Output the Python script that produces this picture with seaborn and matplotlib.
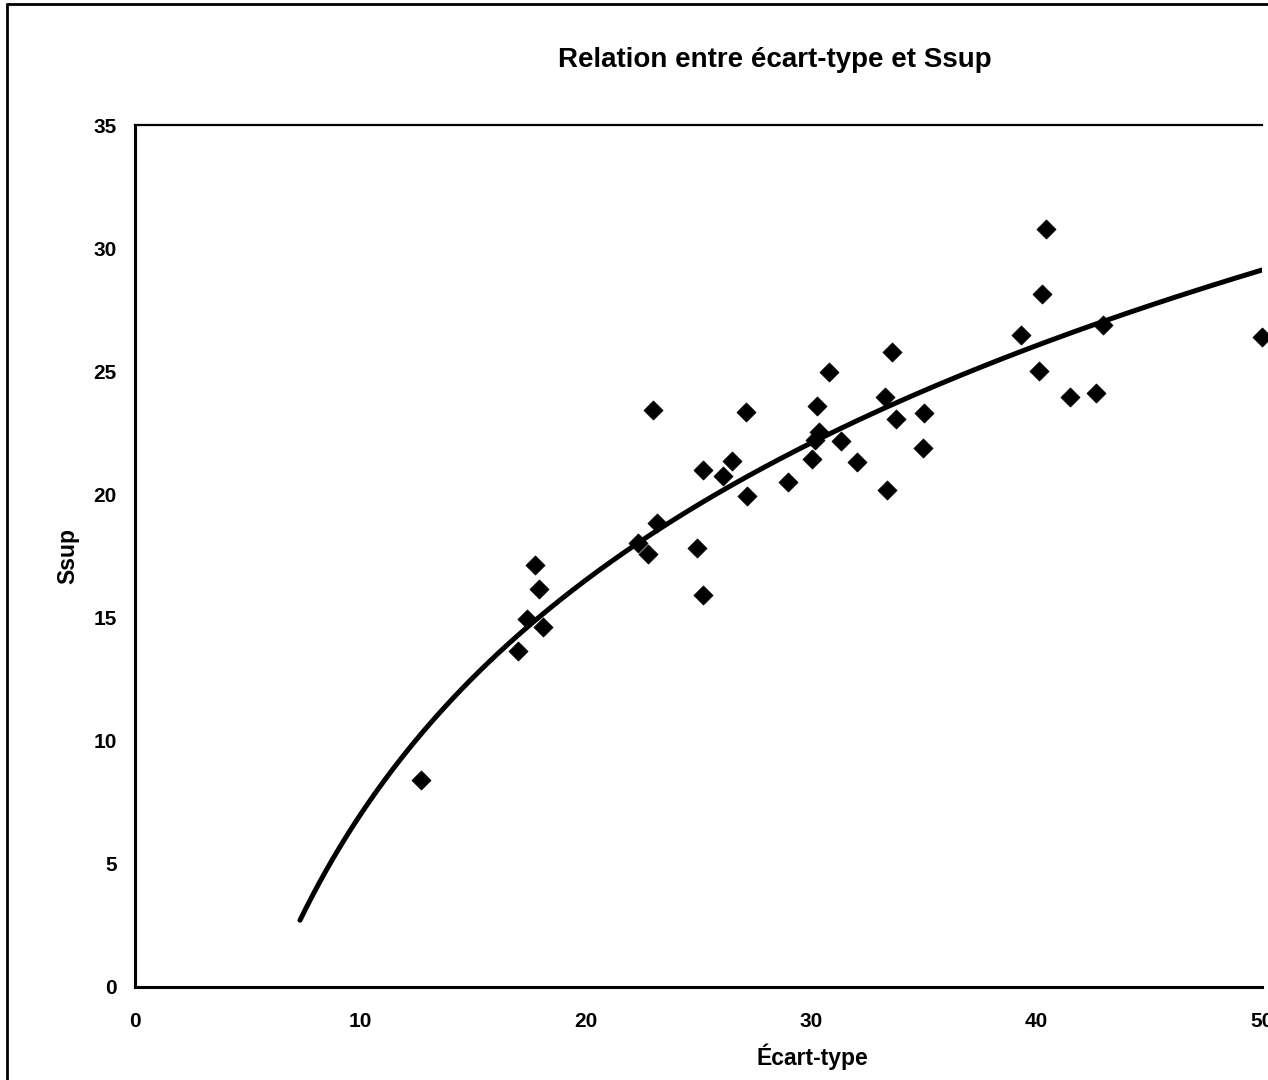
import numpy as np
import pandas as pd
import matplotlib
matplotlib.use("Agg")
import matplotlib.pyplot as plt
from matplotlib.lines import Line2D
import seaborn as sns

# Observations: standard deviation vs. Ssup
ecart_type = [12.69, 16.99, 17.39, 17.75, 17.92, 18.10, 22.32, 22.76, 22.98, 23.16,
              24.93, 25.20, 25.20, 26.09, 26.49, 27.11, 27.15, 28.97, 30.04, 30.17,
              30.26, 30.35, 30.79, 31.32, 32.03, 33.27, 33.36, 33.58, 33.76, 34.96,
              35.00, 39.31, 40.11, 40.24, 40.42, 41.48, 42.64, 42.95, 50.00]
ssup = [8.40, 13.64, 14.94, 17.13, 16.16, 14.62, 18.03, 17.58, 23.43, 18.84,
        17.82, 15.92, 20.99, 20.75, 21.36, 23.35, 19.94, 20.50, 21.44, 22.21,
        23.59, 22.53, 24.97, 22.17, 21.32, 23.95, 20.18, 25.78, 23.06, 21.88,
        23.30, 26.47, 25.01, 28.14, 30.78, 23.95, 24.12, 26.88, 26.39]

x_ticks = [0, 10, 20, 30, 40, 50]
y_ticks = [0, 5, 10, 15, 20, 25, 30, 35]

# Logarithmic trend line  Ssup = a * ln(ecart) + b, drawn with a backward forecast
trend_slope = 13.74
trend_intercept = -24.64
trend_start = 7.32
trend_end = 50.0

df = pd.DataFrame({"Écart-type": ecart_type, "Ssup": ssup})
trend_x = np.linspace(trend_start, trend_end, 300)
trend = pd.DataFrame({"x": trend_x, "y": trend_slope * np.log(trend_x) + trend_intercept})

sns.set_theme(style="white")
plt.rcParams["font.family"] = ["Liberation Sans", "DejaVu Sans"]
plt.rcParams["text.color"] = "black"
plt.rcParams["axes.labelcolor"] = "black"
plt.rcParams["xtick.color"] = "black"
plt.rcParams["ytick.color"] = "black"

W, H = 1268, 1080
fig = plt.figure(figsize=(W / 100, H / 100), dpi=100)
fig.patch.set_facecolor("white")

ax_left, ax_right, ax_top, ax_bottom = 135, 1262, 125, 987
ax_w, ax_h = ax_right - ax_left, ax_bottom - ax_top
ax = fig.add_axes([ax_left / W, (H - ax_bottom) / H, ax_w / W, ax_h / H])

sns.lineplot(data=trend, x="x", y="y", ax=ax, color="black", linewidth=3.6,
             sort=False, estimator=None)
sns.scatterplot(data=df, x="Écart-type", y="Ssup", ax=ax, marker="D", s=95,
                color="black", edgecolor="black", linewidth=0.5, clip_on=False,
                zorder=3)

ax.set_xlim(0, 50)
ax.set_ylim(0, 35)
ax.set_xticks(x_ticks)
ax.set_yticks(y_ticks)
ax.set_xticklabels([str(v) for v in x_ticks], fontsize=15, fontweight="bold", color="black")
ax.set_yticklabels([str(v) for v in y_ticks], fontsize=15, fontweight="bold", color="black")
ax.tick_params(axis="x", direction="inout", length=10, width=1.5, color="black", pad=13)
ax.tick_params(axis="y", direction="inout", length=10, width=1.5, color="black", pad=8)

for side in ("left", "bottom"):
    ax.spines[side].set_linewidth(2.2)
    ax.spines[side].set_color("black")
ax.spines["top"].set_linewidth(1.6)
ax.spines["top"].set_color("black")
ax.spines["right"].set_visible(False)

ax.set_xlabel("Écart-type", fontsize=16.5, fontweight="bold", color="black", va="baseline")
ax.set_ylabel("Ssup", fontsize=16.5, fontweight="bold", color="black", va="center")
ax.xaxis.set_label_coords((812 - ax_left) / ax_w, -(1065 - ax_bottom) / ax_h)
ax.yaxis.set_label_coords((67.5 - ax_left) / ax_w, (ax_bottom - 556) / ax_h)

fig.text(775 / W, 1 - 67 / H, "Relation entre écart-type et Ssup",
         ha="center", va="baseline", fontsize=20, fontweight="bold", color="black")

# Outer frame of the chart area
fig.add_artist(Line2D([7 / W, 7 / W], [1 - 4 / H, -0.01], color="black", linewidth=2.0,
                      transform=fig.transFigure))
fig.add_artist(Line2D([7 / W, 1.01], [1 - 4 / H, 1 - 4 / H], color="black", linewidth=2.0,
                      transform=fig.transFigure))

fig.savefig("out.png", dpi=100)
